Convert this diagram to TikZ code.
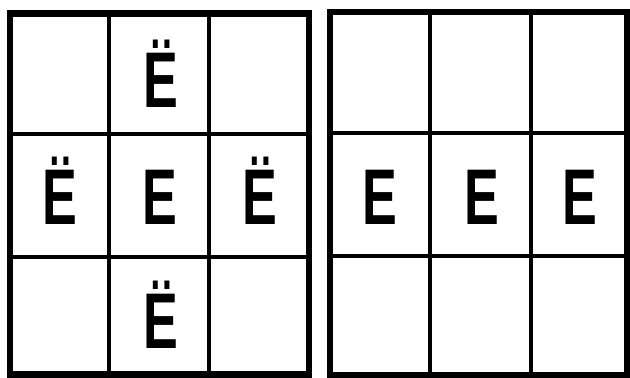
\documentclass[tikz,border=0pt]{standalone}
\usepackage{fontspec}
\setmainfont{Liberation Sans}
\tikzset{
  outer/.style={line width=6.5pt, line join=miter},
  inner/.style={line width=4pt},
  letter/.style={anchor=base, inner sep=0pt, font=\fontsize{79}{79}\selectfont\bfseries},
}
\newcommand{\narrow}[1]{\scalebox{0.66}[1]{#1}}
\begin{document}
\begin{tikzpicture}[x=1pt,y=-1pt]
\useasboundingbox[fill=white] (0,0) rectangle (630,378);
% left grid
\draw[inner] (109,13) -- (109,374) (209,13) -- (209,374)
             (10,134) -- (309,134) (10,257) -- (309,257);
\draw[outer] (10,13.5) rectangle (309,374.5);
% right grid
\draw[inner] (430,12) -- (430,375) (531,12) -- (531,375)
             (330,133) -- (627,133) (330,256) -- (627,256);
\draw[outer] (330,12) rectangle (627,375);
% left letters
\node[letter] (l12) at (161,107) {\narrow{Ë}};
\node[letter] (l21) at (60,224) {\narrow{Ë}};
\node[letter] (l22) at (160,224) {\narrow{E}};
\node[letter] (l23) at (260,224) {\narrow{Ë}};
\node[letter] (l32) at (161,348) {\narrow{Ë}};
% right letters
\node[letter] (r21) at (380,224) {\narrow{E}};
\node[letter] (r22) at (482,224) {\narrow{E}};
\node[letter] (r23) at (580,224) {\narrow{E}};
\end{tikzpicture}
\end{document}
